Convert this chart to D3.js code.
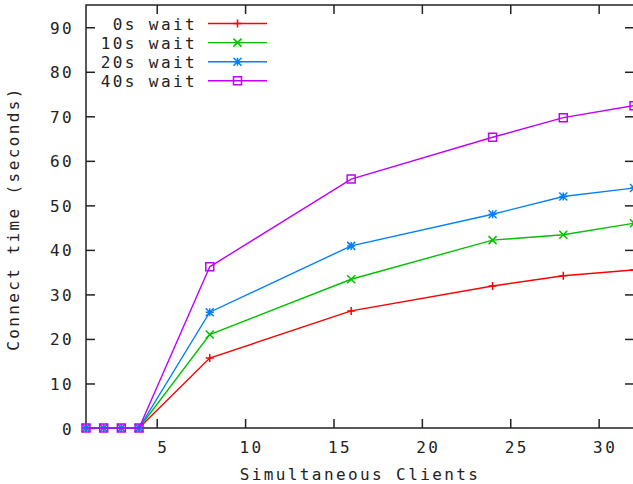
<!DOCTYPE html>
<html>
<head>
<meta charset="utf-8">
<script src="https://cdn.jsdelivr.net/npm/d3@7"></script>
<style>
  html, body { margin: 0; padding: 0; background: #fff; }
  svg { display: block; }
  text { font-family: "DejaVu Sans Mono", monospace; font-size: 16px; letter-spacing: 2.4px; fill: #222; }
</style>
</head>
<body>
<svg width="633" height="484"></svg>
<script>
// values
const clients = [1, 2, 3, 4, 8, 16, 24, 28, 32];
const wait0 = [0, 0, 0, 0, 15.7, 26.3, 31.9, 34.2, 35.5];
const wait10 = [0, 0, 0, 0, 21.0, 33.4, 42.2, 43.4, 46.0];
const wait20 = [0, 0, 0, 0, 26.0, 40.9, 48.0, 52.0, 53.9];
const wait40 = [0, 0, 0, 0, 36.2, 55.9, 65.3, 69.7, 72.4];
const seriesNames = ["0s wait", "10s wait", "20s wait", "40s wait"];
const seriesColors = ["#ff0000", "#00c000", "#0080ff", "#c000ff"];
const seriesMarks = ["plus", "cross", "star", "square"];
const xTicks = [5, 10, 15, 20, 25, 30];
const yTicks = [0, 10, 20, 30, 40, 50, 60, 70, 80, 90];

const series = [wait0, wait10, wait20, wait40].map((vals, i) => ({
    name: seriesNames[i], color: seriesColors[i], mark: seriesMarks[i],
    points: clients.map((c, j) => [c, vals[j]])
}));

let svg = d3.select('svg');
let pLeft = 86, pRight = 634, pTop = 5, pBottom = 428;

let x = d3.scaleLinear().domain([1, 32]).range([pLeft, pRight]);
let y = d3.scaleLinear().domain([0, 95]).range([pBottom, pTop]);

// axes, ticks pointing inward like gnuplot
let gx = svg.append('g').attr('transform', `translate(0,${pBottom})`)
    .call(d3.axisBottom(x).tickValues(xTicks).tickSize(-9).tickSizeOuter(0));
let gxTop = svg.append('g').attr('transform', `translate(0,${pTop})`)
    .call(d3.axisTop(x).tickValues(xTicks).tickSize(-9).tickSizeOuter(0).tickFormat(''));
let gy = svg.append('g').attr('transform', `translate(${pLeft},0)`)
    .call(d3.axisLeft(y).tickValues(yTicks).tickSize(-9).tickSizeOuter(0));
let gyRight = svg.append('g').attr('transform', `translate(${pRight},0)`)
    .call(d3.axisRight(y).tickValues(yTicks.filter(d => d > 0)).tickSize(-9).tickSizeOuter(0).tickFormat(''));

[gx, gxTop, gy, gyRight].forEach(g => {
    g.select('.domain').remove();
    g.selectAll('.tick line').attr('stroke', '#222').attr('stroke-width', 1.5);
    g.attr('font-family', null).attr('font-size', null);
});
gx.selectAll('.tick text').attr('y', 25).attr('dy', null).attr('dx', 6).attr('fill', '#222');
gy.selectAll('.tick text').attr('x', -12).attr('dy', 6).attr('fill', '#222');

// frame
svg.append('rect')
    .attr('x', pLeft).attr('y', pTop)
    .attr('width', pRight - pLeft).attr('height', pBottom - pTop)
    .attr('fill', 'none').attr('stroke', '#222').attr('stroke-width', 1.5);

// axis titles
svg.append('text')
    .attr('x', (pLeft + pRight) / 2).attr('y', 480)
    .attr('text-anchor', 'middle')
    .text('Simultaneous Clients');
svg.append('text')
    .attr('transform', `translate(19,${(pTop + pBottom) / 2 + 2}) rotate(-90)`)
    .attr('text-anchor', 'middle')
    .text('Connect time (seconds)');

function markPath(kind) {
    let s = 4;
    if (kind === 'plus') return `M${-s},0H${s}M0,${-s}V${s}`;
    if (kind === 'cross') return `M${-s},${-s}L${s},${s}M${-s},${s}L${s},${-s}`;
    if (kind === 'star') return `M${-s},0H${s}M0,${-s}V${s}M${-s},${-s}L${s},${s}M${-s},${s}L${s},${-s}`;
    return `M${-s},${-s}H${s}V${s}H${-s}Z`;
}

let line = d3.line().x(d => x(d[0])).y(d => y(d[1]));

series.forEach(s => {
    let g = svg.append('g');
    g.append('path')
        .attr('d', line(s.points))
        .attr('fill', 'none').attr('stroke', s.color).attr('stroke-width', 1.4);
    g.selectAll('path.mark')
        .data(s.points)
        .enter()
        .append('path')
        .attr('class', 'mark')
        .attr('transform', d => `translate(${x(d[0])},${y(d[1])})`)
        .attr('d', markPath(s.mark))
        .attr('fill', 'none').attr('stroke', s.color).attr('stroke-width', 1.5);
});

// legend
let legend = svg.append('g');
series.forEach((s, i) => {
    let cy = 23.5 + i * 19.1;
    legend.append('text')
        .attr('x', 197).attr('y', cy + 6)
        .attr('text-anchor', 'end')
        .text(s.name);
    legend.append('line')
        .attr('x1', 208).attr('x2', 267).attr('y1', cy).attr('y2', cy)
        .attr('stroke', s.color).attr('stroke-width', 1.4);
    legend.append('path')
        .attr('transform', `translate(237.5,${cy})`)
        .attr('d', markPath(s.mark))
        .attr('fill', 'none').attr('stroke', s.color).attr('stroke-width', 1.5);
});
</script>
</body>
</html>
